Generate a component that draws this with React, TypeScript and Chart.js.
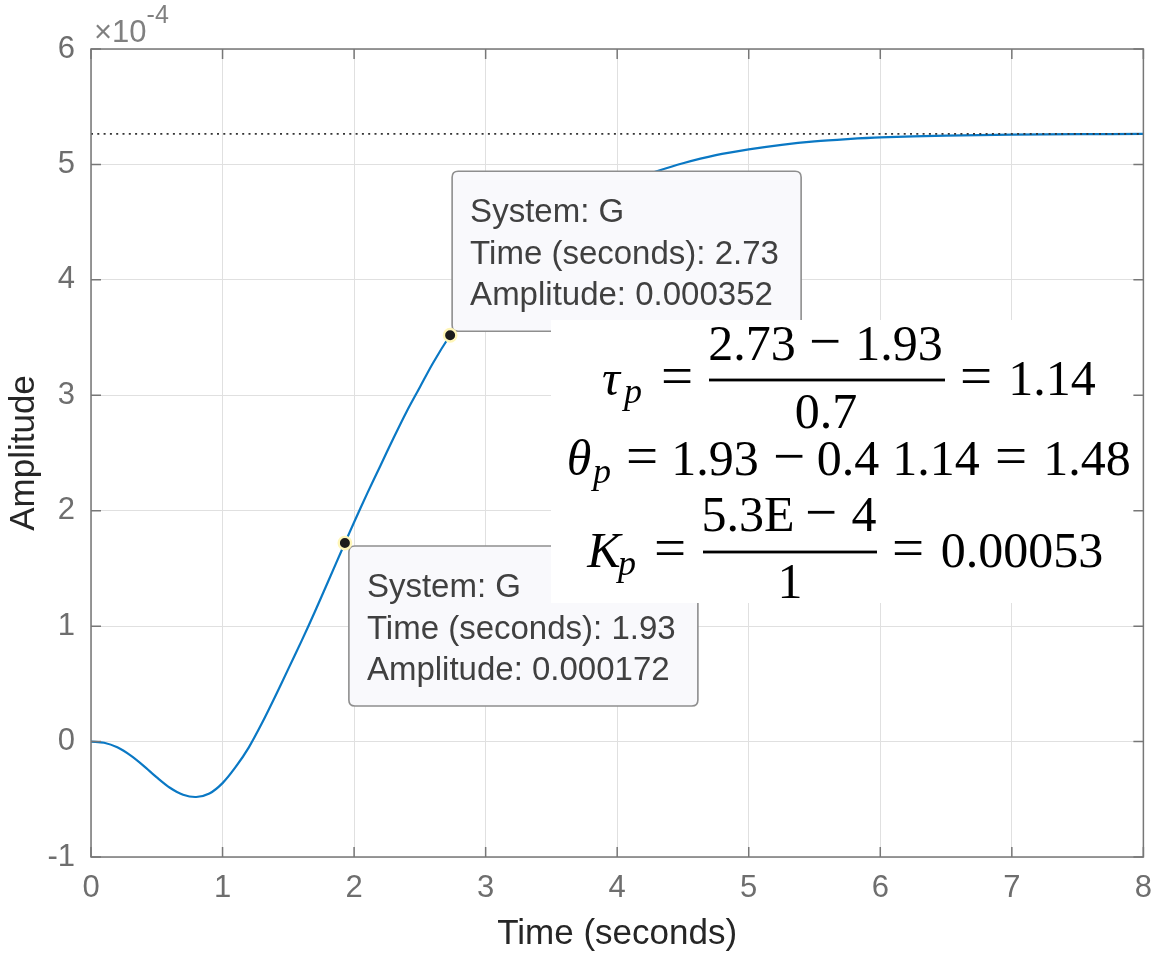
import React, { useEffect, useRef } from "react";
import { Chart, registerables } from "chart.js";

Chart.register(...registerables);

// ---- data (amplitude in units of 1e-4) ----
const timeS = [
  0, 0.1, 0.2, 0.3, 0.4, 0.5, 0.6, 0.7, 0.8, 0.9, 1.0, 1.1, 1.2, 1.3, 1.4, 1.5, 1.6, 1.7, 1.8,
  1.93, 2.0, 2.1, 2.2, 2.3, 2.4, 2.5, 2.6, 2.73, 2.9, 3.1, 3.3, 3.5, 3.7, 3.9, 4.1, 4.3, 4.5,
  4.75, 5.0, 5.25, 5.5, 5.75, 6.0, 6.5, 7.0, 7.5, 8.0,
];
const amplitudeE4 = [
  0, -0.01, -0.05, -0.12, -0.21, -0.31, -0.4, -0.46, -0.48, -0.45, -0.36, -0.22, -0.05, 0.16,
  0.39, 0.63, 0.87, 1.12, 1.38, 1.72, 1.9, 2.15, 2.39, 2.63, 2.86, 3.07, 3.28, 3.52, 3.8, 4.07,
  4.3, 4.49, 4.64, 4.76, 4.86, 4.94, 5.01, 5.08, 5.13, 5.17, 5.2, 5.22, 5.235, 5.25, 5.258,
  5.262, 5.264,
];
const steadyStateE4 = 5.265;
const markerTimes = [1.93, 2.73];
const markerAmpsE4 = [1.72, 3.52];
const tipTexts = [
  ["System: G", "Time (seconds): 1.93", "Amplitude: 0.000172"],
  ["System: G", "Time (seconds): 2.73", "Amplitude: 0.000352"],
];
const xTickValues = [0, 1, 2, 3, 4, 5, 6, 7, 8];
const yTickValues = [-1, 0, 1, 2, 3, 4, 5, 6];
const xTitle = "Time (seconds)";
const yTitle = "Amplitude";
const exponentLabel = "-4";

// ---- equation annotation (text pieces, centred) ----
type Piece = { t: string; x: number; y: number; it?: boolean; sz?: number };
const OP = 57;
const eqPieces: Piece[] = [
  // tau line
  { t: "τ", x: 611, y: 395, it: true },
  { t: "p", x: 633, y: 403, it: true, sz: 36 },
  { t: "=", x: 677, y: 395, sz: OP },
  { t: "2.73", x: 752, y: 360 },
  { t: "−", x: 825, y: 360, sz: OP },
  { t: "1.93", x: 899, y: 360 },
  { t: "0.7", x: 826, y: 428 },
  { t: "=", x: 976, y: 395, sz: OP },
  { t: "1.14", x: 1052, y: 395 },
  // theta line
  { t: "θ", x: 579, y: 475, it: true },
  { t: "p", x: 602, y: 483, it: true, sz: 36 },
  { t: "=", x: 642, y: 475, sz: OP },
  { t: "1.93", x: 715, y: 475 },
  { t: "−", x: 789, y: 475, sz: OP },
  { t: "0.4", x: 848, y: 475 },
  { t: "1.14", x: 936, y: 475 },
  { t: "=", x: 1011, y: 475, sz: OP },
  { t: "1.48", x: 1087, y: 475 },
  // K line
  { t: "K", x: 604, y: 567, it: true },
  { t: "p", x: 627, y: 575, it: true, sz: 36 },
  { t: "=", x: 670, y: 567, sz: OP },
  { t: "5.3E", x: 748, y: 531 },
  { t: "−", x: 821, y: 531, sz: OP },
  { t: "4", x: 864, y: 531 },
  { t: "1", x: 790, y: 598 },
  { t: "=", x: 908, y: 567, sz: OP },
  { t: "0.00053", x: 1022, y: 567 },
];
const eqBars = [
  { x1: 709, x2: 945, y: 380 },
  { x1: 703, x2: 877, y: 552 },
];

const SANS = '"Liberation Sans", Arial, Helvetica, sans-serif';
const SERIF = '"Liberation Serif", "Times New Roman", serif';

function roundRect(ctx: CanvasRenderingContext2D, x: number, y: number, w: number, h: number, r: number) {
  ctx.beginPath();
  ctx.moveTo(x + r, y);
  ctx.lineTo(x + w - r, y);
  ctx.quadraticCurveTo(x + w, y, x + w, y + r);
  ctx.lineTo(x + w, y + h - r);
  ctx.quadraticCurveTo(x + w, y + h, x + w - r, y + h);
  ctx.lineTo(x + r, y + h);
  ctx.quadraticCurveTo(x, y + h, x, y + h - r);
  ctx.lineTo(x, y + r);
  ctx.quadraticCurveTo(x, y, x + r, y);
  ctx.closePath();
}

const overlayPlugin = {
  id: "overlayPlugin",
  afterDatasetDraw(chart: any, args: any) {
    if (args.index !== 0) return;
    const ctx: CanvasRenderingContext2D = chart.ctx;
    const xs = chart.scales.x;
    const ys = chart.scales.y;
    ctx.save();
    markerTimes.forEach((t, i) => {
      const px = xs.getPixelForValue(t);
      const py = ys.getPixelForValue(markerAmpsE4[i]);
      const w = 349;
      const h = 160;
      const left = i === 0 ? px + 4 : px + 2;
      const top = i === 0 ? py + 3 : py - 4 - h;
      roundRect(ctx, left, top, w, h, 6);
      ctx.fillStyle = "#f9f9fc";
      ctx.fill();
      ctx.lineWidth = 1.6;
      ctx.strokeStyle = "#8e8e8e";
      ctx.stroke();
      ctx.fillStyle = "#404040";
      ctx.font = `33px ${SANS}`;
      ctx.textAlign = "left";
      ctx.textBaseline = "middle";
      tipTexts[i].forEach((line, k) => {
        ctx.fillText(line, left + 18, top + 42 + k * 41.5);
      });
    });
    ctx.restore();
  },
  afterDatasetsDraw(chart: any) {
    const ctx: CanvasRenderingContext2D = chart.ctx;
    ctx.save();
    ctx.fillStyle = "#ffffff";
    ctx.fillRect(551, 320, 592, 283);
    ctx.fillStyle = "#000000";
    ctx.textAlign = "center";
    ctx.textBaseline = "alphabetic";
    eqPieces.forEach((p) => {
      ctx.font = `${p.it ? "italic " : ""}${p.sz || 50}px ${SERIF}`;
      ctx.fillText(p.t, p.x, p.y);
    });
    eqBars.forEach((b) => {
      ctx.fillRect(b.x1, b.y - 1.4, b.x2 - b.x1, 2.8);
    });
    ctx.restore();
  },
  afterDraw(chart: any) {
    const ctx: CanvasRenderingContext2D = chart.ctx;
    const { left, right, top, bottom } = chart.chartArea;
    const xs = chart.scales.x;
    const ys = chart.scales.y;
    ctx.save();
    ctx.strokeStyle = "#777777";
    ctx.lineWidth = 1.5;
    ctx.strokeRect(left, top, right - left, bottom - top);
    ctx.beginPath();
    const tl = 10;
    xTickValues.forEach((v) => {
      const px = xs.getPixelForValue(v);
      ctx.moveTo(px, bottom);
      ctx.lineTo(px, bottom - tl);
      ctx.moveTo(px, top);
      ctx.lineTo(px, top + tl);
    });
    yTickValues.forEach((v) => {
      const py = ys.getPixelForValue(v);
      ctx.moveTo(left, py);
      ctx.lineTo(left + tl, py);
      ctx.moveTo(right, py);
      ctx.lineTo(right - tl, py);
    });
    ctx.stroke();
    // exponent label
    ctx.fillStyle = "#808080";
    ctx.textAlign = "left";
    ctx.textBaseline = "alphabetic";
    ctx.font = `31px ${SANS}`;
    ctx.fillText("×10", left + 3, top - 7);
    const w = ctx.measureText("×10").width;
    ctx.font = `25px ${SANS}`;
    ctx.fillText(exponentLabel, left + 3 + w, top - 26);
    ctx.restore();
  },
};

export default function App() {
  const canvasRef = useRef<HTMLCanvasElement | null>(null);

  useEffect(() => {
    if (!canvasRef.current) return;
    const tickColor = "#6e6e6e";
    const gridColor = "#e0e0e0";
    const chart = new Chart(canvasRef.current, {
      type: "line",
      data: {
        datasets: [
          {
            data: timeS.map((t, i) => ({ x: t, y: amplitudeE4[i] })),
            borderColor: "#0a78c4",
            borderWidth: 2.2,
            pointRadius: 0,
            tension: 0.3,
            order: 3,
          },
          {
            data: [
              { x: xTickValues[0], y: steadyStateE4 },
              { x: xTickValues[xTickValues.length - 1], y: steadyStateE4 },
            ],
            borderColor: "#333333",
            borderWidth: 1.8,
            borderDash: [2, 4.3],
            pointRadius: 0,
            order: 2,
          },
          {
            data: markerTimes.map((t, i) => ({ x: t, y: markerAmpsE4[i] })),
            showLine: false,
            pointRadius: 6.2,
            pointBackgroundColor: "#1c1c1c",
            pointBorderColor: "#fff6b8",
            pointBorderWidth: 2.4,
            order: 1,
          },
        ],
      } as any,
      options: {
        animation: false,
        responsive: false,
        events: [],
        layout: { padding: { left: 0, top: 49, right: 20, bottom: 0 } },
        plugins: { legend: { display: false }, tooltip: { enabled: false } },
        scales: {
          x: {
            type: "linear",
            min: 0,
            max: 8,
            afterBuildTicks: (s: any) => {
              s.ticks = xTickValues.map((v) => ({ value: v }));
            },
            ticks: { color: tickColor, font: { family: SANS, size: 31 }, padding: 13 },
            grid: { color: gridColor, drawTicks: false, lineWidth: 1 },
            border: { display: false },
            title: {
              display: true,
              text: xTitle,
              color: "#262626",
              font: { family: SANS, size: 35 },
              padding: { top: 0, bottom: 4 },
            },
            afterFit: (s: any) => {
              s.height = 102;
            },
          },
          y: {
            type: "linear",
            min: -1,
            max: 6,
            afterBuildTicks: (s: any) => {
              s.ticks = yTickValues.map((v) => ({ value: v }));
            },
            ticks: { color: tickColor, font: { family: SANS, size: 31 }, padding: 16 },
            grid: { color: gridColor, drawTicks: false, lineWidth: 1 },
            border: { display: false },
            title: {
              display: true,
              text: yTitle,
              color: "#262626",
              font: { family: SANS, size: 35 },
              padding: { top: 3, bottom: 0 },
            },
            afterFit: (s: any) => {
              s.width = 91;
            },
          },
        },
      } as any,
      plugins: [overlayPlugin as any],
    });
    return () => chart.destroy();
  }, []);

  return (
    <div style={{ position: "absolute", left: 0, top: 0, width: 1165, height: 959, background: "#ffffff" }}>
      <canvas ref={canvasRef} width={1165} height={959} style={{ width: 1165, height: 959, display: "block" }} />
    </div>
  );
}
